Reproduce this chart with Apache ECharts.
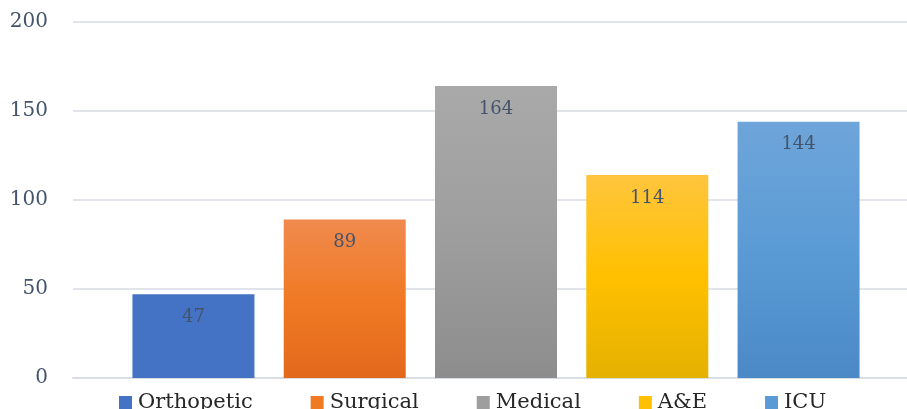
<!DOCTYPE html>
<html>
<head>
<meta charset="utf-8">
<script src="https://cdn.jsdelivr.net/npm/echarts@6/dist/echarts.min.js"></script>
<style>
  html, body { margin: 0; padding: 0; background: #fff; }
  #chart { width: 907px; height: 409px; }
</style>
</head>
<body>
<div id="chart"></div>
<script>
const wards = ['Orthopetic', 'Surgical', 'Medical', 'A&E', 'ICU']
const admissions = [47, 89, 164, 114, 144]
const yTicks = [0, 50, 100, 150, 200]

// top / middle / bottom of each bar's gradient
const wardColors = [
  ['#4472C4', '#4472C4', '#4472C4'],
  ['#F08A4E', '#F07A24', '#E2691C'],
  ['#A9A9A9', '#9E9E9E', '#8D8D8D'],
  ['#FFC53D', '#FFC000', '#E5B100'],
  ['#6EA5DA', '#5B9BD5', '#4A89C6']
]

const chart = echarts.init(document.getElementById('chart'))

const serif = 'DejaVu Serif'

const series = wards.map((name, i) => ({
  name: name,
  type: 'bar',
  data: [admissions[i]],
  barWidth: 122,
  barGap: '24%',
  itemStyle: {
    color: new echarts.graphic.LinearGradient(0, 0, 0, 1, [
      { offset: 0, color: wardColors[i][0] },
      { offset: 0.5, color: wardColors[i][1] },
      { offset: 1, color: wardColors[i][2] }
    ])
  },
  label: {
    show: true,
    position: 'insideTop',
    distance: 14,
    fontFamily: serif,
    fontSize: 18,
    color: '#44546A'
  }
}))

chart.setOption({
  animation: false,
  legend: {
    data: wards.map((w, i) => ({ name: w, itemStyle: { color: wardColors[i][1] } })),
    left: 119,
    top: 392,
    padding: 0,
    itemWidth: 13,
    itemHeight: 13,
    itemGap: 58,
    icon: 'rect',
    textStyle: { fontFamily: serif, fontSize: 21, color: '#262626', padding: [0, 0, 0, 1] }
  },
  grid: { left: 73, top: 22, width: 846, bottom: 31, outerBoundsMode: 'none' },
  xAxis: {
    type: 'category',
    data: [''],
    axisLine: { show: true, lineStyle: { color: '#D9DEE5', width: 2 } },
    axisTick: { show: false },
    axisLabel: { show: false }
  },
  yAxis: {
    type: 'value',
    min: yTicks[0],
    max: yTicks[yTicks.length - 1],
    interval: 50,
    axisLine: { show: false },
    axisTick: { show: false },
    axisLabel: { fontFamily: serif, fontSize: 20, color: '#44546A', margin: 25 },
    splitLine: { lineStyle: { color: '#E1E5EB', width: 2 } }
  },
  series: series
})
</script>
</body>
</html>
